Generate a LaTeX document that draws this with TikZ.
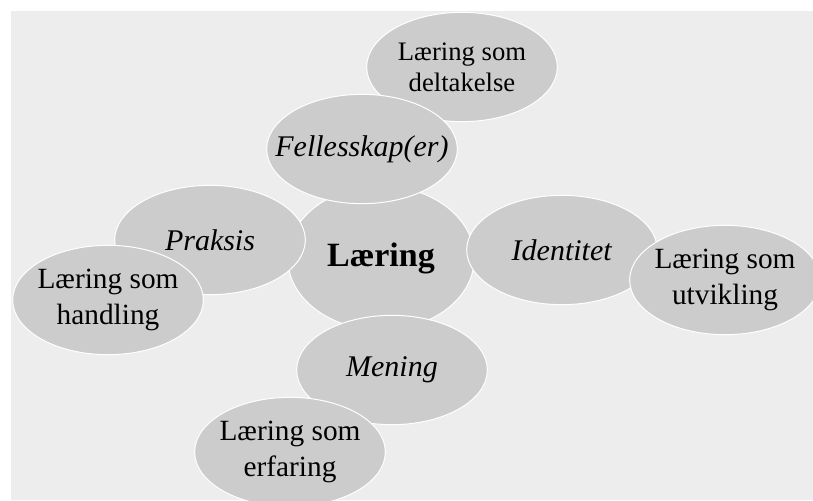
\documentclass[tikz,border=0pt]{standalone}
\usepackage{fontspec}
\setmainfont{Liberation Serif}
\usepackage{xcolor}
\usetikzlibrary{shapes}

\definecolor{bubblegray}{HTML}{CCCCCC}
\definecolor{backgray}{HTML}{EDEDED}

\begin{document}
\begin{tikzpicture}
    [x=0.75pt, y=-0.75pt,
    bubble/.style={ellipse, draw=white, line width=0.75pt, fill=bubblegray, minimum width=143pt, minimum height=82pt, inner xsep=-16pt, inner ysep=0pt, align=center}]
    \useasboundingbox (0,0) rectangle (813,500);
    \fill[backgray] (11,11) rectangle (813,500);
    \node(laering)[bubble,minimum width=140pt,minimum height=108pt,font=\fontsize{25.5}{30}\selectfont\bfseries] at (381,258) {Læring};
    \foreach \n/\px/\py/\fs/\ls/\txt in {deltakelse/462/67/20/23.3/{Læring som\\deltakelse},fellesskap/362/149/22.5/26/{\textit{Fellesskap(er)}},praksis/210/240/22.5/26/{\textit{Praksis}},handling/108/300/22/26.5/{Læring som\\handling},identitet/562/250/22.5/26/{\textit{Identitet}},utvikling/725/280/22/26.5/{Læring som\\utvikling},mening/392/370/22.5/26/{\textit{Mening}},erfaring/290/452/22/26.5/{Læring som\\erfaring}}{
        \node(\n)[bubble,font=\fontsize{\fs}{\ls}\selectfont] at (\px,\py) {\txt};
    }
\end{tikzpicture}
\end{document}
